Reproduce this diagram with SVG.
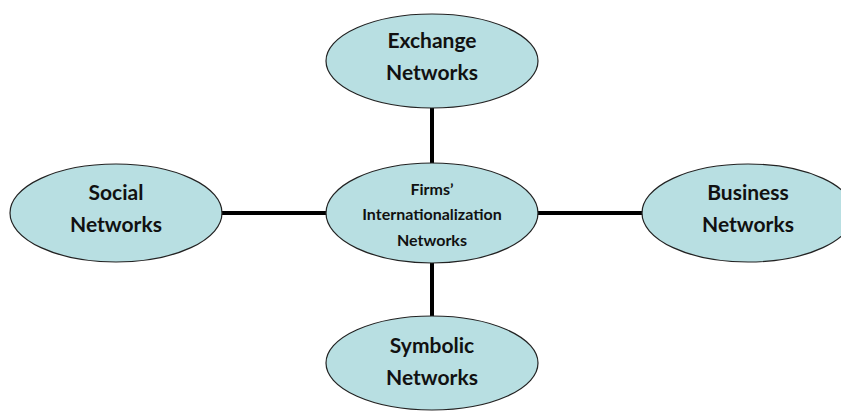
<svg xmlns="http://www.w3.org/2000/svg" width="841" height="412" viewBox="0 0 841 412">
<style>
.n{fill:#b8dfe2;stroke:#222;stroke-width:1.2}
.t{font-family:Lato,"Open Sans","Liberation Sans",sans-serif;font-weight:bold;fill:#111;text-anchor:middle}
.o{font-size:21px}
.c{font-size:16px}
.l{stroke:#000;stroke-width:4;fill:none}
</style>
<rect width="841" height="412" fill="#fff"/>
<g id="connectors">
<line class="l" x1="432" y1="108" x2="432" y2="164"/>
<line class="l" x1="432" y1="263" x2="432" y2="317"/>
<line class="l" x1="221" y1="213" x2="328" y2="213"/>
<line class="l" x1="537" y1="213" x2="644" y2="213"/>
</g>
<g id="exchange">
<ellipse class="n" cx="432" cy="61" rx="106" ry="47"/>
<text class="t o" x="432" y="48">Exchange</text>
<text class="t o" x="432" y="80">Networks</text>
</g>
<g id="center">
<ellipse class="n" cx="432" cy="213" rx="106" ry="50"/>
<text class="t c" x="432" y="195">Firms’</text>
<text class="t c" x="432" y="220">Internationalization</text>
<text class="t c" x="432" y="246">Networks</text>
</g>
<g id="social">
<ellipse class="n" cx="116" cy="213" rx="106" ry="49"/>
<text class="t o" x="116" y="200">Social</text>
<text class="t o" x="116" y="232">Networks</text>
</g>
<g id="business">
<ellipse class="n" cx="748" cy="213" rx="106" ry="49"/>
<text class="t o" x="748" y="200">Business</text>
<text class="t o" x="748" y="232">Networks</text>
</g>
<g id="symbolic">
<ellipse class="n" cx="432" cy="363" rx="106" ry="47"/>
<text class="t o" x="432" y="353">Symbolic</text>
<text class="t o" x="432" y="385">Networks</text>
</g>
</svg>
